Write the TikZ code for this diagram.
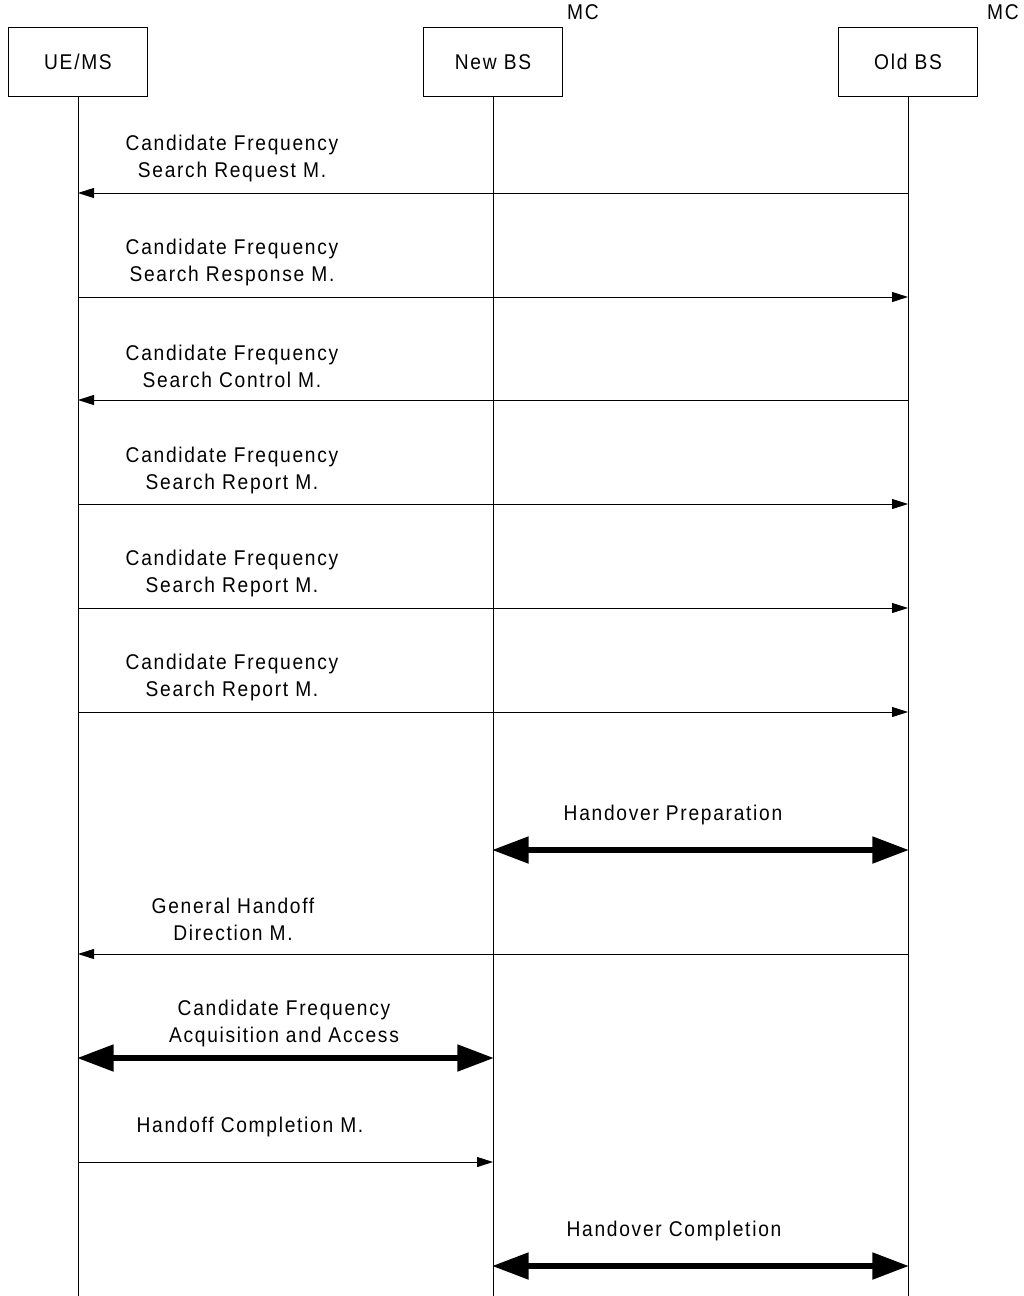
\documentclass[tikz,border=0pt]{standalone}
\usepackage{fontspec}
\setmainfont{Liberation Sans}[LetterSpace=8,FakeStretch=0.9]
\usetikzlibrary{arrows.meta}
\begin{document}
\begin{tikzpicture}[x=0.75pt,y=-0.75pt,
  font=\fontsize{16pt}{20.25pt}\selectfont,
  entity/.style={draw,line width=0.75pt,minimum width=104.25pt,minimum height=51.75pt,inner sep=0pt},
  lifeline/.style={line width=0.75pt},
  msg/.style={line width=0.75pt,-{Triangle[length=12pt,width=7.5pt]}},
  proc/.style={line width=5.2pt,{Triangle[length=27.75pt,width=19pt]}-{Triangle[length=27.75pt,width=19pt]},shorten <=-1pt,shorten >=-1pt},
  lbl/.style={align=center,inner sep=0pt}]
\useasboundingbox (0,0) rectangle (1024,1296);

% entities
\node[entity] (ue)  at (78,62)  {UE/MS};
\node[entity] (nbs) at (493,62) {New BS};
\node[entity] (obs) at (908,62) {Old BS};
\node[lbl] (mc1) at (583,12)  {MC};
\node[lbl] (mc2) at (1003,12) {MC};

% lifeline ends
\coordinate (ueE)  at (78,1296);
\coordinate (nbsE) at (493,1296);
\coordinate (obsE) at (908,1296);
\draw[lifeline] (ue.south)  -- (ueE);
\draw[lifeline] (nbs.south) -- (nbsE);
\draw[lifeline] (obs.south) -- (obsE);

% message anchor points on the lifelines
\foreach \n/\y in {1/193,2/297,3/400,4/504,5/608,6/712,7/850,8/954,9/1058,10/1162,11/1266}{
  \coordinate (u\n) at (78,\y);
  \coordinate (n\n) at (493,\y);
  \coordinate (o\n) at (908,\y);
}

\draw[msg] (o1) -- (u1);
\node[lbl] (t1) at (232,158) {Candidate Frequency\\Search Request M.};
\draw[msg] (u2) -- (o2);
\node[lbl] (t2) at (232,262) {Candidate Frequency\\Search Response M.};
\draw[msg] (o3) -- (u3);
\node[lbl] (t3) at (232,366) {Candidate Frequency\\Search Control M.};
\draw[msg] (u4) -- (o4);
\node[lbl] (t4) at (232,470) {Candidate Frequency\\Search Report M.};
\draw[msg] (u5) -- (o5);
\node[lbl] (t5) at (232,573) {Candidate Frequency\\Search Report M.};
\draw[msg] (u6) -- (o6);
\node[lbl] (t6) at (232,677) {Candidate Frequency\\Search Report M.};

\draw[proc] (n7) -- (o7);
\node[lbl] (t7) at (673,815) {Handover Preparation};

\draw[msg] (o8) -- (u8);
\node[lbl] (t8) at (233,919) {General Handoff\\Direction M.};

\draw[proc] (u9) -- (n9);
\node[lbl] (t9) at (284,1023) {Candidate Frequency\\Acquisition and Access};

\draw[msg] (u10) -- (n10);
\node[lbl] (t10) at (250,1127) {Handoff Completion M.};

\draw[proc] (n11) -- (o11);
\node[lbl] (t11) at (674,1231) {Handover Completion};
\end{tikzpicture}
\end{document}
